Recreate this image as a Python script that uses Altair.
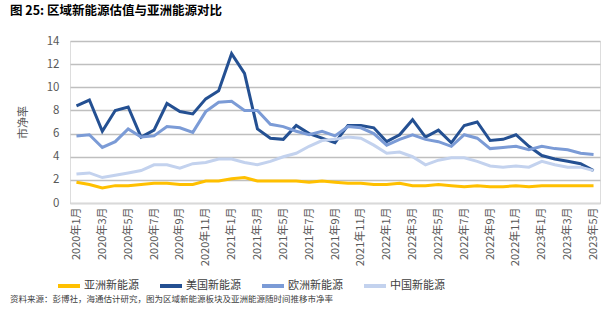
import altair as alt
import pandas as pd

months = [f"{y}年{m}月" for y in (2020, 2021, 2022, 2023) for m in range(1, 13)][:41]

asia = [1.8, 1.6, 1.3, 1.5, 1.5, 1.6, 1.7, 1.7, 1.6, 1.6, 1.9, 1.9, 2.1, 2.2, 1.9, 1.9, 1.9, 1.9, 1.8, 1.9,
        1.8, 1.7, 1.7, 1.6, 1.6, 1.7, 1.5, 1.5, 1.6, 1.5, 1.4, 1.5, 1.4, 1.4, 1.5, 1.4, 1.5, 1.5, 1.5, 1.5, 1.5]
usa = [8.4, 8.9, 6.2, 8.0, 8.3, 5.7, 6.3, 8.6, 7.9, 7.7, 9.0, 9.7, 12.9, 11.2, 6.4, 5.6, 5.5, 6.7, 6.0, 5.6,
       5.2, 6.7, 6.7, 6.5, 5.3, 5.9, 7.2, 5.7, 6.3, 5.2, 6.7, 7.0, 5.4, 5.5, 5.9, 4.9, 4.1, 3.8, 3.6, 3.4, 2.8]
europe = [5.8, 5.9, 4.8, 5.3, 6.4, 5.7, 5.8, 6.6, 6.5, 6.1, 7.9, 8.7, 8.8, 8.0, 8.0, 6.8, 6.6, 6.2, 5.9, 6.2,
          5.8, 6.6, 6.5, 6.0, 5.0, 5.5, 5.9, 5.5, 5.3, 4.9, 5.9, 5.6, 4.7, 4.8, 4.9, 4.6, 4.9, 4.7, 4.6, 4.3, 4.2]
china = [2.5, 2.6, 2.2, 2.4, 2.6, 2.8, 3.3, 3.3, 3.0, 3.4, 3.5, 3.8, 3.8, 3.5, 3.3, 3.6, 4.0, 4.3, 4.9, 5.4,
         5.5, 5.7, 5.6, 5.0, 4.3, 4.4, 4.0, 3.3, 3.7, 3.9, 3.9, 3.6, 3.2, 3.1, 3.2, 3.1, 3.6, 3.3, 3.1, 3.1, 2.8]

series_names = ["亚洲新能源", "美国新能源", "欧洲新能源", "中国新能源"]
series_colors = ["#FFC000", "#245092", "#7B9BD6", "#C3D2EE"]
y_ticks = [0, 2, 4, 6, 8, 10, 12, 14]

title_text = "图 25:  区域新能源估值与亚洲能源对比"
source_text = "资料来源：彭博社，海通估计研究，图为区域新能源板块及亚洲能源随时间推移市净率"

rows = []
for name, vals in zip(series_names, [asia, usa, europe, china]):
    for i, (m, v) in enumerate(zip(months, vals)):
        rows.append({"month": m, "series": name, "value": v, "order": series_names.index(name)})
df = pd.DataFrame(rows)

FONT = "Noto Sans CJK SC"

lines = alt.Chart(df).mark_line(strokeWidth=3, strokeJoin="miter").encode(
    x=alt.X("month:N", sort=months, scale=alt.Scale(type="point", padding=0.5),
            axis=alt.Axis(values=months[::2], labelAngle=-90, title=None, ticks=False,
                          domain=True, domainColor="#D9D9D9", domainWidth=1.5,
                          labelFontSize=11, labelColor="#595959", labelPadding=4,
                          labelFont=FONT, grid=False)),
    y=alt.Y("value:Q", scale=alt.Scale(domain=[0, 14], nice=False),
            axis=alt.Axis(values=y_ticks, title="市净率", titleFont=FONT, titleFontSize=11,
                          titleFontWeight="normal", titleColor="#595959",
                          titleX=-42, titleY=81, titleAngle=-90,
                          domain=False, ticks=False, labelFontSize=11.5, labelColor="#595959",
                          labelPadding=11, labelFont=FONT,
                          grid=True, gridColor="#BFBFBF", gridWidth=1.5)),
    color=alt.Color("series:N", sort=series_names,
                    scale=alt.Scale(domain=series_names, range=series_colors),
                    legend=alt.Legend(orient="none", legendX=-14, legendY=232, direction="horizontal",
                                      title=None, symbolType="stroke", symbolStrokeWidth=4,
                                      symbolSize=484, labelFontSize=11, labelFont=FONT,
                                      labelColor="#404040", columnPadding=13, labelOffset=2,
                                      padding=0, symbolOffset=0)),
    order=alt.Order("order:Q", sort="descending"),
)

source = alt.Chart(pd.DataFrame({"t": [source_text]})).mark_text(
    align="left", baseline="middle", fontSize=8.5, font=FONT, color="#404040"
).encode(text="t:N", x=alt.value(-60), y=alt.value(258))

chart = alt.layer(lines, source).properties(
    width=530, height=162,
    title=alt.TitleParams(title_text, anchor="start", frame="group", dx=-60, offset=18,
                          fontSize=12.5, font=FONT, fontWeight="bold", color="#000000"),
    padding={"left": 70, "top": 41, "right": 7, "bottom": 129},
    autosize=alt.AutoSizeParams(type="none"),
).configure_view(stroke=None).configure(background="white")

chart.save("out.html", embed_options={"renderer": "svg", "actions": False})
